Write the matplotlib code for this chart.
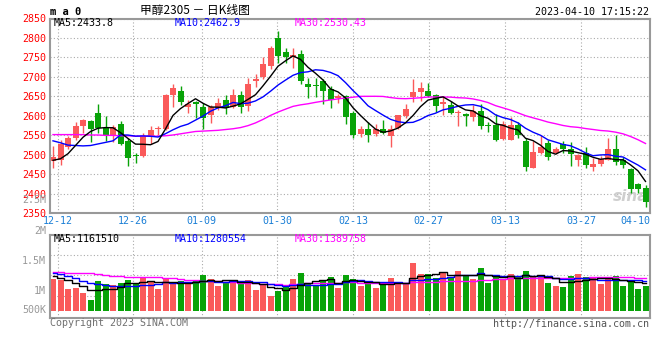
import numpy as np
import pandas as pd
import matplotlib
matplotlib.use("Agg")
import matplotlib.pyplot as plt

plt.rcParams['font.family'] = ['DejaVu Sans Mono', 'Noto Sans CJK SC']

# ---------------- data ----------------
opens = [2484, 2488, 2521, 2542, 2574, 2588, 2608, 2570, 2548, 2580,
         2536, 2500, 2497, 2548, 2566, 2567, 2653, 2665, 2623, 2636,
         2624, 2603, 2620, 2640, 2624, 2653, 2625, 2690, 2700, 2728,
         2800, 2765, 2751, 2759, 2681, 2678, 2689, 2670, 2646, 2651,
         2608, 2553, 2566, 2553, 2566, 2549, 2569, 2599, 2648, 2661,
         2665, 2653, 2631, 2627, 2607, 2606, 2597, 2612, 2577, 2576,
         2540, 2538, 2576, 2535, 2467, 2504, 2531, 2504, 2527, 2516,
         2487, 2505, 2469, 2477, 2487, 2516, 2488, 2464, 2424, 2416]
highs = [2524, 2539, 2548, 2584, 2593, 2590, 2631, 2600, 2576, 2586,
         2544, 2506, 2555, 2573, 2573, 2655, 2682, 2676, 2640, 2637,
         2634, 2629, 2647, 2653, 2668, 2664, 2697, 2708, 2752, 2779,
         2819, 2774, 2774, 2770, 2697, 2697, 2695, 2676, 2657, 2653,
         2612, 2573, 2584, 2578, 2590, 2576, 2603, 2631, 2694, 2687,
         2685, 2657, 2651, 2637, 2614, 2608, 2629, 2631, 2584, 2606,
         2586, 2597, 2584, 2542, 2535, 2550, 2538, 2521, 2535, 2532,
         2501, 2520, 2491, 2497, 2543, 2550, 2495, 2465, 2429, 2423]
lows = [2465, 2475, 2516, 2538, 2555, 2532, 2555, 2535, 2533, 2525,
        2472, 2478, 2495, 2529, 2550, 2563, 2623, 2627, 2608, 2595,
        2566, 2582, 2614, 2604, 2620, 2607, 2612, 2674, 2695, 2721,
        2735, 2736, 2722, 2682, 2646, 2648, 2630, 2619, 2634, 2578,
        2544, 2546, 2533, 2549, 2553, 2521, 2567, 2595, 2636, 2637,
        2648, 2610, 2603, 2606, 2574, 2574, 2586, 2567, 2559, 2535,
        2538, 2538, 2544, 2459, 2465, 2501, 2486, 2501, 2504, 2472,
        2472, 2467, 2458, 2472, 2486, 2475, 2465, 2401, 2401, 2365]
closes = [2494, 2527, 2542, 2573, 2590, 2567, 2570, 2550, 2571, 2527,
          2492, 2498, 2548, 2565, 2569, 2653, 2671, 2636, 2630, 2630,
          2595, 2623, 2634, 2620, 2653, 2624, 2681, 2694, 2734, 2775,
          2753, 2751, 2757, 2689, 2674, 2676, 2665, 2642, 2651, 2597,
          2550, 2566, 2550, 2567, 2557, 2567, 2603, 2617, 2661, 2671,
          2651, 2625, 2636, 2607, 2609, 2600, 2612, 2574, 2575, 2538,
          2580, 2576, 2550, 2469, 2508, 2521, 2495, 2516, 2515, 2503,
          2499, 2475, 2477, 2489, 2516, 2481, 2474, 2412, 2412, 2380]
volumes = [1346000, 1303000, 921000, 978000, 765000, 453000, 1261000, 1133000, 1091000, 1190000,
           1303000, 1190000, 1417000, 1233000, 921000, 1346000, 1133000, 1261000, 1133000, 1303000,
           1516000, 1346000, 1048000, 1233000, 1303000, 1162000, 1303000, 878000, 1091000, 623000,
           836000, 992000, 1346000, 1615000, 1190000, 1091000, 1303000, 1431000, 949000, 1516000,
           1346000, 1048000, 1162000, 949000, 1218000, 1388000, 1218000, 1162000, 2026000, 1573000,
           1558000, 1388000, 1601000, 1388000, 1686000, 1516000, 1346000, 1813000, 1190000, 1516000,
           1303000, 1558000, 1445000, 1686000, 1473000, 1445000, 1190000, 1048000, 1006000, 1473000,
           1558000, 1417000, 1374000, 1133000, 1417000, 1473000, 1048000, 1303000, 921000, 1048000]

# moving-average values at the start, where the history is off the chart
ma5_head = [2486, 2490, 2503, 2524]
ma10_head = [2536, 2531, 2525, 2524, 2523, 2524, 2528, 2532, 2536]
ma30_head = [2552, 2552, 2552, 2552, 2552, 2551, 2551, 2550, 2550, 2549,
             2549, 2548, 2548, 2548, 2548, 2549, 2551, 2554, 2557, 2560,
             2561, 2562, 2563, 2565, 2567, 2570, 2575, 2582, 2591]
vol_ma5_head = [1487000, 1403000, 1303000, 1162000]
vol_ma10_head = [1587000, 1544000, 1473000, 1374000, 1275000, 1162000, 1119000, 1077000, 1063000]
vol_ma30_head = [1629000, 1629000, 1615000, 1587000, 1587000, 1587000, 1573000, 1530000, 1473000, 1459000,
                 1445000, 1445000, 1431000, 1417000, 1417000, 1403000, 1388000, 1346000, 1318000, 1289000,
                 1275000, 1261000, 1247000, 1233000, 1204000, 1190000, 1176000, 1162000, 1148000]

date_labels = ['12-12', '12-26', '01-09', '01-30', '02-13', '02-27', '03-13', '03-27', '04-10']
date_pos = [0.6, 10.7, 19.8, 29.9, 40.0, 50.1, 60.3, 70.4, 79.6]
price_ticks = [2350, 2400, 2450, 2500, 2550, 2600, 2650, 2700, 2750, 2800, 2850]
vol_grid = [637500, 1517000, 2367000]

RED = '#fa5a5a'
GREEN = '#08a308'
GRID = '#aaaaaa'
EDGE = '#999999'
W, H = 660.0, 360.0


def moving_avg(values, n, head):
    s = pd.Series(values, dtype=float).rolling(n).mean()
    s.iloc[:n - 1] = head
    return s.values


def px(x, y):
    return x / W, 1 - y / H


def style_axes(ax):
    for sp in ax.spines.values():
        sp.set_color(EDGE)
        sp.set_linewidth(1.5)
    ax.tick_params(length=0)
    ax.set_xticks(date_pos[:-1])
    ax.grid(True, color=GRID, linestyle=(0, (1, 2)), linewidth=0.8)
    ax.set_axisbelow(True)
    ax.set_xlim(-0.4, 79.6)


opens = np.array(opens)
closes = np.array(closes)
x = np.arange(len(closes))
colors = np.where(closes >= opens, RED, GREEN)

fig = plt.figure(figsize=(6.6, 3.6), dpi=100)

# ---------------- price panel ----------------
ax = fig.add_axes([50 / W, 1 - 213.3 / H, 600 / W, (213.3 - 18.5) / H])
style_axes(ax)
ax.set_ylim(2350, 2850)
ax.set_yticks(price_ticks)
ax.set_yticklabels([str(t) for t in price_ticks], color='#ff0000', fontsize=7.2)
ax.tick_params(axis='y', pad=3)
ax.set_xticks(date_pos)
ax.set_xticklabels(date_labels, color='#1a7fd6', fontsize=7.2)
ax.get_xticklabels()[-1].set_horizontalalignment('right')
ax.tick_params(axis='x', pad=2)

ax.vlines(x, lows, highs, colors=colors, linewidth=1.0, zorder=2)
body_low = np.minimum(opens, closes)
body_h = np.maximum(np.abs(closes - opens), 2.5)
ax.bar(x, body_h, bottom=body_low, width=0.8, color=colors, linewidth=0, zorder=2)

ax.plot(x, moving_avg(closes, 30, ma30_head), color='#ff00ff', lw=1.0, zorder=3)
ax.plot(x, moving_avg(closes, 10, ma10_head), color='#0000ff', lw=1.0, zorder=3)
ax.plot(x, moving_avg(closes, 5, ma5_head), color='black', lw=1.0, zorder=3)

ax.text(79.4, 2392, 'sina', color='#cfcfcf', fontsize=11, fontweight='bold',
        style='italic', ha='right', va='center', family='DejaVu Sans', zorder=1)

# ---------------- volume panel ----------------
axv = fig.add_axes([50 / W, 1 - 317.7 / H, 600 / W, 82.7 / H])
style_axes(axv)
axv.set_ylim(-297500, 3217000)
axv.set_yticks(vol_grid)
axv.set_yticklabels([])
axv.set_xticklabels([])
axv.bar(x, volumes, width=0.8, color=colors, linewidth=0, zorder=2)
axv.plot(x, moving_avg(volumes, 30, vol_ma30_head), color='#ff00ff', lw=1.0,
         drawstyle='steps-mid', zorder=3)
axv.plot(x, moving_avg(volumes, 10, vol_ma10_head), color='#0000ff', lw=1.0,
         drawstyle='steps-mid', zorder=3)
axv.plot(x, moving_avg(volumes, 5, vol_ma5_head), color='black', lw=1.0,
         drawstyle='steps-mid', zorder=3)

# ---------------- texts ----------------
fs = 7.2
fig.text(*px(50, 12), 'm a 0', fontsize=7.5, fontweight='bold', va='center')
fig.text(*px(140, 10.5), '甲醇2305 － 日K线图', fontsize=8.5, va='center',
         family=['Noto Sans CJK SC', 'DejaVu Sans'])
fig.text(*px(649, 12), '2023-04-10 17:15:22', fontsize=fs, ha='right', va='center')

fig.text(*px(54, 23.5), 'MA5:2433.8', fontsize=fs, color='black', va='center')
fig.text(*px(175, 23.5), 'MA10:2462.9', fontsize=fs, color='#0000ff', va='center')
fig.text(*px(295, 23.5), 'MA30:2530.43', fontsize=fs, color='#ff00ff', va='center')

fig.text(*px(54, 238.5), 'MA5:1161510', fontsize=fs, color='black', va='center')
fig.text(*px(175, 238.5), 'MA10:1280554', fontsize=fs, color='#0000ff', va='center')
fig.text(*px(295, 238.5), 'MA30:1389758', fontsize=fs, color='#ff00ff', va='center')

for lab, yy in [('2.5M', 200), ('2M', 231), ('1.5M', 261), ('1M', 291), ('500K', 310)]:
    fig.text(*px(46, yy), lab, fontsize=fs, color='#999999', ha='right', va='center')

fig.text(*px(50, 323.5), 'Copyright 2023 SINA.COM', fontsize=fs, color='#707070', va='center')
fig.text(*px(649, 324), 'http://finance.sina.com.cn', fontsize=fs, color='#555555',
         ha='right', va='center')

fig.savefig('out.png', dpi=100)
